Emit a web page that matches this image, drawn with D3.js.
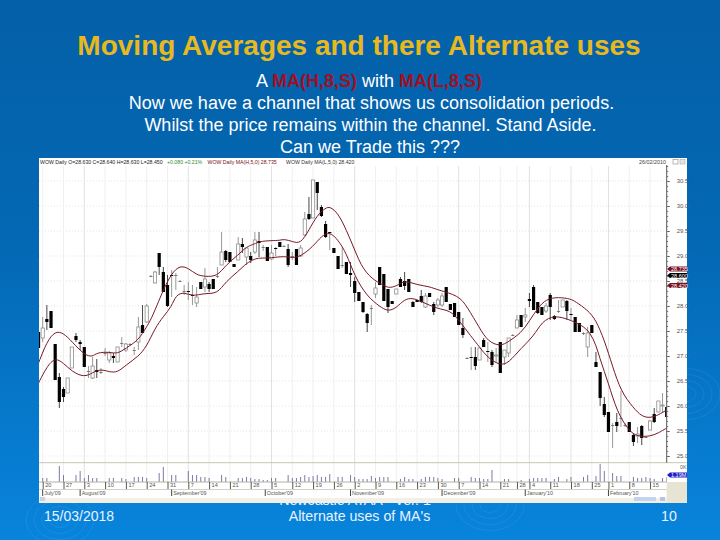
<!DOCTYPE html>
<html>
<head>
<meta charset="utf-8">
<script src="https://cdn.jsdelivr.net/npm/d3@7"></script>
<style>
  html, body { margin: 0; padding: 0; background: #0570bd; }
  svg { display: block; }
  text { font-family: "Liberation Sans", Arial, sans-serif; }
</style>
</head>
<body>
<div id="content"></div>
<script>
// candles, one per trading day, oldest first
var opens = [
  27.48,27.36,27.74,27.90,27.24,26.58,26.34,26.26,26.76,27.40,
  27.28,27.18,26.70,26.56,26.72,26.68,27.06,26.92,27.00,26.88,
  27.26,27.12,27.24,27.12,27.28,27.62,27.68,28.60,28.46,29.06,
  28.68,28.42,28.62,28.62,28.50,28.30,28.30,28.22,28.06,28.48,
  28.38,28.44,28.54,28.60,28.82,29.10,29.08,28.84,28.92,29.24,
  28.98,29.00,29.08,29.30,29.18,29.18,28.94,29.16,29.28,29.20,
  29.14,29.00,29.14,29.00,29.42,29.84,29.76,30.48,29.98,29.64,
  29.48,29.16,29.00,28.82,28.88,28.66,28.50,28.28,28.08,27.84,
  27.96,28.24,28.78,28.64,28.34,28.10,28.24,28.54,28.50,28.54,
  28.08,28.12,28.20,27.98,28.26,28.04,28.02,28.02,28.38,28.04,
  28.06,27.88,27.56,26.96,26.98,26.98,26.92,27.32,27.10,27.08,
  27.00,27.28,26.98,27.06,27.42,27.56,27.82,27.78,28.14,28.38,
  28.08,27.98,27.90,28.22,27.80,27.90,27.98,28.10,27.84,27.78,
  27.66,27.46,27.18,27.62,26.88,26.68,26.04,25.88,25.62,25.68,
  25.76,25.62,25.68,25.42,25.40,25.60,25.38,25.52,25.84,25.88,
  26.00,25.98];
var closes = [
  27.16,27.56,27.68,27.56,26.52,26.08,26.18,26.56,27.18,27.32,
  27.24,26.78,26.70,26.80,26.68,26.68,27.06,27.06,26.96,27.18,
  27.26,27.24,27.24,27.12,27.58,27.46,28.00,28.60,28.68,28.78,
  28.28,28.00,28.60,28.62,28.50,28.30,28.28,28.20,28.18,28.34,
  28.54,28.34,28.34,28.60,29.08,28.92,28.88,28.78,29.24,29.18,
  29.16,28.92,29.32,29.26,29.18,28.90,29.06,29.14,29.18,29.20,
  28.82,29.00,28.82,29.16,29.74,29.74,30.52,30.26,29.80,29.38,
  29.46,29.06,28.74,28.82,28.64,28.62,28.26,28.10,27.88,27.66,
  27.96,28.36,28.42,28.10,27.98,28.04,28.34,28.38,28.40,28.28,
  27.98,28.08,28.08,28.20,28.18,27.88,28.12,28.20,28.08,27.92,
  27.78,27.62,27.42,26.96,26.96,26.80,27.16,27.18,27.08,26.82,
  27.02,26.66,27.12,27.36,27.42,27.72,27.58,27.82,28.10,27.92,
  27.86,27.82,28.00,27.98,27.74,27.90,28.12,27.90,27.82,27.48,
  27.48,27.46,27.46,27.46,26.78,26.16,25.82,25.48,25.62,25.60,
  25.76,25.62,25.48,25.28,25.44,25.36,25.38,25.70,25.68,26.10,
  26.02,25.78];
var highs = [
  27.48,27.78,28.02,27.90,27.24,26.66,26.38,26.56,27.18,27.46,
  27.32,27.18,26.80,26.98,26.94,26.76,27.16,27.10,27.06,27.18,
  27.38,27.26,27.26,27.18,27.78,28.02,28.04,28.62,28.70,29.06,
  28.78,28.62,28.72,28.66,28.52,28.42,28.48,28.42,28.38,28.48,
  28.76,28.48,28.54,28.78,29.48,29.12,29.08,28.84,29.38,29.36,
  29.16,29.08,29.48,29.48,29.22,29.18,29.22,29.18,29.28,29.22,
  29.24,29.08,29.14,29.22,29.88,30.18,30.52,30.48,30.02,29.70,
  29.48,29.16,29.00,29.18,28.88,28.88,28.58,28.28,28.08,27.86,
  28.02,28.48,28.78,28.64,28.34,28.10,28.34,28.58,28.68,28.54,
  28.10,28.12,28.32,28.26,28.26,28.08,28.16,28.26,28.38,28.04,
  28.06,27.88,27.76,26.98,27.18,27.18,27.16,27.36,27.28,27.12,
  27.16,27.28,27.12,27.36,27.44,27.82,27.82,27.96,28.26,28.42,
  28.08,27.98,28.06,28.26,27.82,28.12,28.12,28.12,27.96,27.78,
  27.66,27.48,27.58,27.62,27.08,26.68,26.18,25.88,25.66,25.86,
  26.30,25.66,25.68,25.46,25.58,25.62,25.40,25.72,25.96,26.10,
  26.26,25.98];
var lows = [
  27.16,27.28,27.52,27.56,26.52,25.96,26.08,26.26,26.76,27.28,
  27.12,26.78,26.56,26.54,26.56,26.64,27.00,26.86,26.86,26.88,
  27.18,27.08,27.20,27.02,27.12,27.46,27.66,28.58,28.46,28.62,
  28.28,27.98,28.18,28.32,28.48,28.22,28.12,28.02,27.98,28.34,
  28.28,28.28,28.34,28.56,28.82,28.88,28.88,28.78,28.92,29.06,
  28.82,28.86,29.04,28.98,29.10,28.90,28.92,29.00,29.18,29.18,
  28.78,28.92,28.82,28.98,29.40,29.72,29.76,29.92,29.78,29.36,
  29.12,29.06,28.74,28.76,28.64,28.38,28.08,28.10,27.86,27.48,
  27.62,28.16,28.42,28.10,27.86,28.04,28.24,28.38,28.32,28.28,
  27.98,28.08,28.06,27.96,28.18,27.82,27.98,27.98,28.08,27.92,
  27.78,27.62,27.36,26.94,26.72,26.72,26.92,27.18,26.88,26.78,
  26.88,26.66,26.82,26.98,27.40,27.56,27.58,27.68,27.98,27.92,
  27.84,27.82,27.86,27.72,27.72,27.86,27.98,27.72,27.72,27.48,
  27.48,27.42,26.98,27.46,26.78,26.00,25.78,25.48,25.16,25.48,
  25.58,25.58,25.48,25.20,25.26,25.22,25.36,25.52,25.66,25.88,
  25.86,25.78];
// volume in millions
var volumes = [
  0,.8,.8,0,0,3.2,1.4,0,0,1.4,
  2.2,.8,1.4,.8,.8,0,0,.8,.8,0,
  .8,.6,0,1,1,1,.8,0,0,1.8,
  3,0,1.4,1.4,0,0,2.2,1.4,1.4,1,
  1,.8,0,0,1.4,1,0,0,.8,.8,
  1,.8,.6,.6,.4,.4,.8,.8,0,0,
  1.4,.8,.8,1,1.4,1,1.2,1.4,1,1,
  1.6,0,1,1,0,1.4,1,.6,.6,.6,
  1.2,.8,1,1,1,0,0,.6,1,.6,
  .6,0,.6,1,1,1,.8,.6,0,0,
  .8,.8,0,0,1,.8,.8,.6,.6,2.4,
  0,0,.6,.6,0,0,.4,0,.6,.8,
  .8,.8,.8,0,.6,1,0,.6,1,0,
  0,1,1.4,0,1.2,3.6,2.2,0,1.8,1.2,
  1.2,0,0,1,.8,.8,1,.8,.6,0,
  .8,1];

var maHighDays = [0,2,4,6,8,11,13,14,17,19,21,24,26,27,29,30,32,34,36,38,40,43,45,48,50,52,53,56,58,59,61,63,65,67,69,70,72,74,76,78,81,83,84,86,88,91,94,96,101,103,106,108,111,113,116,118,120,122,125,128,129,132,134,136,138,140,143,145,147,149,151];
var maHighValues = [26.86,27.29,27.50,27.46,27.29,27.02,26.98,27.07,27.08,27.04,27.16,27.31,27.59,27.72,28.12,28.32,28.66,28.81,28.76,28.62,28.59,28.59,28.82,29.02,29.19,29.24,29.29,29.31,29.31,29.34,29.29,29.24,29.52,29.82,29.96,29.99,29.86,29.52,29.12,28.72,28.49,28.42,28.36,28.39,28.52,28.42,28.39,28.32,28.21,27.99,27.56,27.29,27.19,27.29,27.46,27.70,27.96,28.14,28.18,28.14,28.09,27.92,27.72,27.32,26.79,26.29,25.96,25.79,25.76,25.82,25.92];
var maLowDays = [0,2,4,6,8,11,13,15,17,19,21,24,26,28,30,32,33,35,37,40,43,45,48,50,52,53,56,59,61,63,66,68,70,72,74,76,79,82,84,86,88,90,92,96,99,101,104,106,108,111,113,116,119,121,124,128,133,135,137,139,142,144,147,149,151];
var maLowValues = [26.46,26.79,26.97,26.86,26.69,26.57,26.67,26.74,26.68,26.67,26.82,26.99,27.19,27.56,27.79,27.99,28.22,28.28,28.19,28.26,28.24,28.49,28.69,28.86,28.94,28.96,28.96,29.00,28.96,28.99,29.19,29.40,29.49,29.32,29.06,28.59,28.19,27.99,27.89,27.96,28.14,28.16,28.09,27.94,27.91,27.72,27.39,27.18,26.96,26.81,26.86,27.16,27.39,27.69,27.82,27.72,27.52,26.92,26.46,25.89,25.49,25.39,25.39,25.46,25.56];

// axis ticks and labels
var priceTicks = [30.5,30,29.5,29,28.5,28,27.5,27,26.5,26,25.5,25];
var weekDays = [1,6,11,16,21,26,31,36,41,46,51,56,61,66,71,76,81,86,91,96,101,106,111,115,118,123,128,133,137,142,147];
var weekLabels = ["20","27","3","10","17","24","31","7","14","21","28","5","12","19","26","2","9","16","23","30","7","14","21","28","4","11","18","25","1","8","15"];
var monthDays = [1,10,32,54.5,75,97,117,137];
var monthLabels = ["July'09","August'09","September'09","October'09","November'09","December'09","January'10","February'10"];
var strongWeeks = ["3","7","5","2","7","4","18","1"];
var priceTags = [28.74,28.61,28.41];
var priceTagLabels = ["28.735","28.600","28.420"];
var priceTagColors = ["#7a1020","#000000","#7a1020"];

var titleText = "Moving Averages and there Alternate uses";
var bodyLines = ["Now we have a channel that shows us consolidation periods.",
                 "Whilst the price remains within the channel. Stand Aside.",
                 "Can we Trade this ???"];
var bodyCentres = [371.5, 370.5, 370];

var width = 720, height = 540;
var plot = {left: 39, right: 666.7, top: 158, bottom: 462.7, volBottom: 482, frameRight: 687, frameBottom: 503};

var x = d3.scaleLinear().domain([0, 151]).range([38.54, 666.7]);
var y = d3.scaleLinear().domain([25, 30.5]).range([456, 181]);
var v = d3.scaleLinear().domain([0, 4]).range([plot.volBottom, plot.volBottom - 20]);

var svg = d3.select("#content").append("svg")
    .attr("width", width)
    .attr("height", height);

// slide background
var defs = svg.append("defs");
var grad = defs.append("linearGradient").attr("id", "bg")
    .attr("x1", 0).attr("y1", 0).attr("x2", 0).attr("y2", 1);
grad.append("stop").attr("offset", "0%").attr("stop-color", "#0460a8");
grad.append("stop").attr("offset", "45%").attr("stop-color", "#0468b4");
grad.append("stop").attr("offset", "100%").attr("stop-color", "#0884dc");
svg.append("rect").attr("width", width).attr("height", height).attr("fill", "url(#bg)");
defs.append("clipPath").attr("id", "plotclip").append("rect")
    .attr("x", plot.left).attr("y", plot.top)
    .attr("width", plot.right - plot.left).attr("height", plot.volBottom - plot.top);

// ripples in the slide template
[[686,394],[490,505],[60,520]].forEach(function(c) {
  [10,18,26,34].forEach(function(r) {
    svg.append("ellipse").attr("cx", c[0]).attr("cy", c[1])
      .attr("rx", r).attr("ry", r * 0.75)
      .attr("fill", "none").attr("stroke", "#ffffff").attr("stroke-opacity", 0.07);
  });
});

// title + text
svg.append("text").attr("x", 359).attr("y", 54.5)
    .attr("text-anchor", "middle")
    .style("font-size", "28px").style("font-weight", "bold")
    .attr("fill", "#e8b91e")
    .text(titleText);
var first = svg.append("text").attr("x", 369).attr("y", 87)
    .attr("text-anchor", "middle").style("font-size", "18px").attr("fill", "#fff");
first.append("tspan").text("A ");
first.append("tspan").attr("fill", "#a01024").style("font-weight", "bold").text("MA(H,8,S)");
first.append("tspan").text(" with ");
first.append("tspan").attr("fill", "#a01024").style("font-weight", "bold").text("MA(L,8,S)");
svg.selectAll(".bodyline").data(bodyLines).enter().append("text")
    .attr("class", "bodyline")
    .attr("x", function(d, i) { return bodyCentres[i]; })
    .attr("y", function(d, i) { return 109 + i * 22; })
    .attr("text-anchor", "middle")
    .style("font-size", "18px")
    .attr("fill", "#fff")
    .text(function(d) { return d; });

// footer, the first footer line sits behind the chart
svg.append("text").attr("x", 44).attr("y", 521).style("font-size", "14px").attr("fill", "#e8f4ff").text("15/03/2018");
svg.append("text").attr("x", 355).attr("y", 505).attr("text-anchor", "middle").style("font-size", "14.2px").attr("fill", "#e8f4ff").text("Newcastle ATAA - Ver. 1");
svg.append("text").attr("x", 359.5).attr("y", 521).attr("text-anchor", "middle").style("font-size", "14.2px").attr("fill", "#e8f4ff").text("Alternate uses of MA's");
svg.append("text").attr("x", 669).attr("y", 521).attr("text-anchor", "middle").style("font-size", "14.2px").attr("fill", "#e8f4ff").text("10");

// chart frame
svg.append("rect").attr("x", plot.left).attr("y", plot.top)
    .attr("width", plot.frameRight - plot.left).attr("height", plot.frameBottom - plot.top)
    .attr("fill", "#fff");
svg.append("rect").attr("x", plot.left).attr("y", 498)
    .attr("width", plot.frameRight - plot.left).attr("height", 5).attr("fill", "#f1efe6");
svg.append("rect").attr("x", plot.right).attr("y", plot.volBottom)
    .attr("width", plot.frameRight - plot.right).attr("height", plot.frameBottom - plot.volBottom).attr("fill", "#e8e4d4");
svg.append("rect").attr("x", 634).attr("y", 497).attr("width", 22).attr("height", 4).attr("fill", "#c4d2ee");
svg.append("rect").attr("x", 660).attr("y", 497).attr("width", 5).attr("height", 4).attr("fill", "#b4c4e6");
svg.append("rect").attr("x", 40).attr("y", 497).attr("width", 5).attr("height", 4).attr("fill", "#c4d2ee");

// grid
var g = svg.append("g").attr("class", "grid");
g.selectAll(".h").data(priceTicks).enter().append("line")
    .attr("x1", plot.left).attr("x2", plot.right)
    .attr("y1", function(d) { return y(d); }).attr("y2", function(d) { return y(d); })
    .attr("stroke", "#dcdcdc").attr("stroke-width", 0.8).attr("stroke-dasharray", "1,2");
g.selectAll(".v").data(weekDays).enter().append("line")
    .attr("x1", function(d) { return x(d); }).attr("x2", function(d) { return x(d); })
    .attr("y1", plot.top + 8).attr("y2", plot.volBottom)
    .attr("stroke", function(d, i) { return strongWeeks.indexOf(weekLabels[i]) >= 0 && i > 1 ? "#dedede" : "#eeeeee"; })
    .attr("stroke-width", 0.9);

// volume pane
svg.append("line").attr("x1", plot.left).attr("x2", plot.right + 20)
    .attr("y1", plot.bottom).attr("y2", plot.bottom)
    .attr("stroke", "#c9c5b5").attr("stroke-width", 1);
var chart = svg.append("g").attr("clip-path", "url(#plotclip)");
chart.selectAll(".vol").data(volumes).enter().append("line")
    .attr("class", "vol")
    .attr("x1", function(d, i) { return x(i); })
    .attr("x2", function(d, i) { return x(i); })
    .attr("y1", plot.volBottom)
    .attr("y2", function(d) { return v(d); })
    .attr("stroke", "#6c6c9c")
    .attr("stroke-width", 0.9);

// candles
var bars = d3.range(opens.length);
var candle = chart.selectAll(".candle").data(bars).enter().append("g").attr("class", "candle");
candle.append("line")
    .attr("x1", function(d) { return x(d); })
    .attr("x2", function(d) { return x(d); })
    .attr("y1", function(d) { return y(highs[d]); })
    .attr("y2", function(d) { return y(lows[d]); })
    .attr("stroke", function(d) { return closes[d] < opens[d] - 0.03 ? "#333" : "#8c8c8c"; })
    .attr("stroke-width", 0.9);
candle.append("rect")
    .attr("x", function(d) { return x(d) - 1.6; })
    .attr("y", function(d) { return y(Math.max(opens[d], closes[d])); })
    .attr("width", 3.2)
    .attr("height", function(d) { return Math.max(0.8, Math.abs(y(opens[d]) - y(closes[d]))); })
    .attr("fill", function(d) { return closes[d] < opens[d] ? "#000" : (closes[d] == opens[d] ? "#666" : "#fff"); })
    .attr("stroke", function(d) { return closes[d] > opens[d] ? "#8c8c8c" : "none"; })
    .attr("stroke-width", 0.8);

// the channel
var maLine = d3.line()
    .curve(d3.curveBasis)
    .x(function(d) { return x(d[0]); })
    .y(function(d) { return y(d[1]); });
chart.append("path").attr("class", "ma")
    .attr("d", maLine(d3.zip(maHighDays, maHighValues)))
    .attr("fill", "none").attr("stroke", "#7a1826").attr("stroke-width", 1);
chart.append("path").attr("class", "ma")
    .attr("d", maLine(d3.zip(maLowDays, maLowValues)))
    .attr("fill", "none").attr("stroke", "#7a1826").attr("stroke-width", 1);

// legend row over the plot
var legendY = 163.5;
function legendText(xpos, color, txt) {
  svg.append("text").attr("x", xpos).attr("y", legendY).style("font-size", "5.2px").attr("fill", color).text(txt);
}
legendText(40, "#222", "WOW Daily  O=28.630 C=28.640 H=28.630 L=28.450");
legendText(167, "#2e8b2e", "+0.080 +0.21%");
legendText(207.5, "#7a1020", "WOW Daily MA(H,5,0) 28.735");
legendText(286, "#333", "WOW Daily MA(L,5,0) 28.420");
svg.append("text").attr("x", 666).attr("y", legendY).attr("text-anchor", "end").style("font-size", "5.4px").attr("fill", "#444").text("26/02/2010");
svg.append("rect").attr("x", 673).attr("y", 159.5).attr("width", 5).attr("height", 4.5).attr("fill", "#fff").attr("stroke", "#888").attr("stroke-width", 0.6);
svg.append("rect").attr("x", 680).attr("y", 159.5).attr("width", 5).attr("height", 4.5).attr("fill", "#e4e4e4").attr("stroke", "#aaa").attr("stroke-width", 0.6);

// price axis on the right
var yAxis = d3.axisRight(y).tickValues(priceTicks).tickSize(3).tickPadding(7)
    .tickFormat(d3.format(".1f"));
var yg = svg.append("g").attr("transform", "translate(" + plot.right + ",0)").call(yAxis);
yg.select(".domain").attr("stroke", "#555").attr("d", "M0," + (plot.top + 7) + "V" + plot.bottom);
yg.selectAll(".tick line").attr("stroke", "#555");
yg.selectAll(".tick text").style("font-size", "6px").attr("fill", "#555")
    .style("font-family", "\"Liberation Sans\", Arial, sans-serif");
var minor = svg.append("g").attr("transform", "translate(" + plot.right + ",0)")
    .call(d3.axisRight(y).tickValues(d3.range(25, 30.9, 0.1)).tickSize(1.5).tickFormat(""));
minor.select(".domain").remove();
minor.selectAll(".tick line").attr("stroke", "#777");

// tags of the last values
var tag = svg.selectAll(".tag").data(priceTags).enter().append("g").attr("class", "tag");
tag.append("path")
    .attr("d", function(d) { var t = y(d); return "M667," + t + "L670," + (t - 2.6) + "H687V" + (t + 2.6) + "H670Z"; })
    .attr("fill", function(d, i) { return priceTagColors[i]; });
tag.append("text")
    .attr("x", 671).attr("y", function(d) { return y(d) + 2; })
    .style("font-size", "5.5px").attr("fill", "#fff")
    .text(function(d, i) { return priceTagLabels[i]; });
svg.append("path").attr("d", "M667,475L670,472.5H687V477.5H670Z").attr("fill", "#1c1cc8");
svg.append("text").attr("x", 671).attr("y", 477).style("font-size", "5.5px").attr("fill", "#fff").text("1.19M");
svg.append("text").attr("x", 680).attr("y", 469).style("font-size", "5.5px").attr("fill", "#666").text("0K");

// date axis
var dateAxis = d3.axisBottom(x).tickValues(weekDays).tickSize(7).tickPadding(-6)
    .tickFormat(function(d, i) { return weekLabels[i]; });
var dg = svg.append("g").attr("transform", "translate(0," + plot.volBottom + ")").call(dateAxis);
dg.select(".domain").attr("stroke", "#b4b0a4").attr("d", "M" + plot.left + ",0H" + plot.right);
dg.selectAll(".tick line").attr("stroke", "#555");
dg.selectAll(".tick text").attr("text-anchor", "start").attr("dx", 2).attr("y", 1.5)
    .style("font-size", "5.6px").attr("fill", "#555")
    .style("font-family", "\"Liberation Sans\", Arial, sans-serif");
svg.append("line").attr("x1", plot.left).attr("x2", plot.right).attr("y1", 489.5).attr("y2", 489.5).attr("stroke", "#c8c4b8").attr("stroke-width", 0.8);
var month = svg.selectAll(".month").data(monthDays).enter().append("g").attr("class", "month");
month.append("line")
    .attr("x1", function(d) { return x(d); }).attr("x2", function(d) { return x(d); })
    .attr("y1", 489.5).attr("y2", 496).attr("stroke", "#444");
month.append("text")
    .attr("x", function(d) { return x(d) + 1.5; }).attr("y", 494.5)
    .style("font-size", "5.4px").attr("fill", "#555")
    .text(function(d, i) { return monthLabels[i]; });
</script>
</body>
</html>
